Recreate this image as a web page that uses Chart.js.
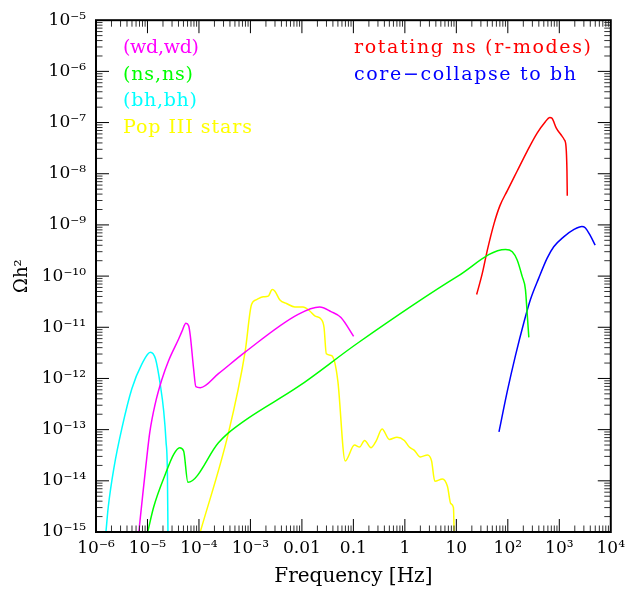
<!DOCTYPE html>
<html>
<head>
<meta charset="utf-8">
<script src="https://cdn.jsdelivr.net/npm/chart.js@4.4.1/dist/chart.umd.min.js"></script>
<style>
  html, body { margin: 0; padding: 0; background: #ffffff; }
  canvas { display: block; }
</style>
</head>
<body>
<canvas id="c" width="631" height="591" style="width:631px;height:591px"></canvas>
<script>
// ---------------- DATA ----------------
// (wd,wd)
const wdwdFreq  = [6.79e-6, 7.94e-6, 9.33e-6, 1.11e-5, 1.41e-5, 1.89e-5, 2.58e-5, 4.03e-5, 4.67e-5, 5.58e-5, 6.30e-5, 6.79e-5, 7.87e-5, 8.71e-5, 1.06e-4, 2.39e-4, 7.87e-4, 8.45e-3, 2.22e-2, 3.67e-2, 5.73e-2, 1.01e-1];
const wdwdOmega = [1e-15, 4.47e-15, 2.0e-14, 8.9e-14, 3.16e-13, 9.3e-13, 2.24e-12, 5.89e-12, 8.3e-12, 1.20e-11, 1.07e-11, 6.84e-12, 1.55e-12, 6.89e-13, 6.59e-13, 1.24e-12, 3.27e-12, 1.79e-11, 2.49e-11, 2.02e-11, 1.55e-11, 6.64e-12];

// (ns,ns)
const nsnsFreq  = [1.01e-5, 1.32e-5, 2.23e-5, 3.23e-5, 4.22e-5, 5.04e-5, 6.10e-5, 2.39e-4, 3.74e-4, 9.1e-4, 8.43e-3, 0.122, 10.5, 90.4, 122, 152, 190, 220, 237, 256];
const nsnsOmega = [1e-15, 3.08e-15, 1.36e-14, 3.30e-14, 4.44e-14, 3.83e-14, 9.35e-15, 5.53e-14, 8.63e-14, 1.68e-13, 6.89e-13, 4.93e-12, 9.86e-11, 3.32e-10, 3.00e-10, 2.07e-10, 9.86e-11, 5.44e-11, 1.93e-11, 6.35e-12];

// (bh,bh)
const bhbhFreq  = [1.56e-6, 1.73e-6, 2.23e-6, 3.18e-6, 4.97e-6, 7.76e-6, 1.14e-5, 1.43e-5, 1.78e-5, 2.07e-5, 2.29e-5, 2.44e-5, 2.50e-5];
const bhbhOmega = [1e-15, 3.08e-15, 1.80e-14, 1.06e-13, 6.3e-13, 1.91e-12, 3.27e-12, 2.42e-12, 7.4e-13, 2.26e-13, 5.97e-14, 1.36e-14, 1e-15];

// Pop III stars
const popFreq  = [1.06e-4, 3.74e-4, 7.87e-4, 1.05e-3, 1.32e-3, 1.78e-3, 2.22e-3, 2.65e-3, 2.99e-3, 3.74e-3, 5.01e-3, 7.29e-3, 1.05e-2, 1.42e-2, 1.78e-2, 2.38e-2, 2.69e-2, 2.98e-2, 3.72e-2, 4.33e-2, 5.01e-2, 6.93e-2, 0.105, 0.132, 0.165, 0.221, 0.276, 0.361, 0.501, 0.703, 0.977, 1.22, 1.53, 2.00, 2.76, 3.30, 3.82, 5.38, 6.73, 7.80, 8.79, 9.06];
const popOmega = [1e-15, 8.63e-14, 3.27e-12, 2.79e-11, 3.48e-11, 3.94e-11, 4.06e-11, 5.45e-11, 5.07e-11, 3.40e-11, 2.92e-11, 2.49e-11, 2.49e-11, 2.08e-11, 1.67e-11, 1.43e-11, 9.91e-12, 3.03e-12, 2.82e-12, 2.09e-12, 8.59e-13, 2.45e-14, 5.0e-14, 4.57e-14, 6.15e-14, 4.44e-14, 5.97e-14, 1.03e-13, 6.44e-14, 7.13e-14, 6.15e-14, 4.57e-14, 3.94e-14, 2.93e-14, 3.21e-14, 2.45e-14, 9.77e-15, 1.09e-14, 7.73e-15, 3.58e-15, 3.0e-15, 1e-15];

// rotating ns (r-modes)
const rmodeFreq  = [24.8, 32.0, 40.0, 53.8, 70.3, 97.3, 152, 237, 371, 536, 652, 723, 875, 1079, 1250, 1349, 1409, 1429];
const rmodeOmega = [4.36e-11, 1.14e-10, 3.22e-10, 1.05e-9, 2.38e-9, 4.63e-9, 1.13e-8, 2.74e-8, 6.21e-8, 1.04e-7, 1.26e-7, 1.21e-7, 7.76e-8, 5.77e-8, 4.61e-8, 3.43e-8, 1.13e-8, 3.72e-9];

// core-collapse to bh
const ccbhFreq  = [67.3, 97.3, 141, 205, 275, 399, 578, 780, 1216, 1901, 2748, 3184, 3981, 4977];
const ccbhOmega = [9.04e-14, 5.51e-13, 2.82e-12, 1.24e-11, 3.48e-11, 9.14e-11, 2.22e-10, 3.74e-10, 5.85e-10, 8.07e-10, 9.35e-10, 8.83e-10, 6.27e-10, 4.02e-10];

// Tick values and labels
const xTickValues = [1e-6, 1e-5, 1e-4, 1e-3, 1e-2, 1e-1, 1, 10, 100, 1000, 10000];
const xTickLabels = ['10\u207B\u2076', '10\u207B\u2075', '10\u207B\u2074', '10\u207B\u00B3', '0.01', '0.1', '1', '10', '10\u00B2', '10\u00B3', '10\u2074'];
const yTickValues = [1e-15, 1e-14, 1e-13, 1e-12, 1e-11, 1e-10, 1e-9, 1e-8, 1e-7, 1e-6, 1e-5];
const yTickLabels = ['10\u207B\u00B9\u2075', '10\u207B\u00B9\u2074', '10\u207B\u00B9\u00B3', '10\u207B\u00B9\u00B2', '10\u207B\u00B9\u00B9', '10\u207B\u00B9\u2070', '10\u207B\u2079', '10\u207B\u2078', '10\u207B\u2077', '10\u207B\u2076', '10\u207B\u2075'];

const seriesNames  = ['(wd,wd)', '(ns,ns)', '(bh,bh)', 'Pop III stars', 'rotating ns (r-modes)', 'core\u2212collapse to bh'];
const seriesColors = ['#ff00ff', '#00ff00', '#00ffff', '#ffff00', '#ff0000', '#0000ff'];
const seriesFreqs  = [wdwdFreq, nsnsFreq, bhbhFreq, popFreq, rmodeFreq, ccbhFreq];
const seriesOmegas = [wdwdOmega, nsnsOmega, bhbhOmega, popOmega, rmodeOmega, ccbhOmega];

// ---------------- LAYOUT / STYLE ----------------
const legendLayout = [
  { x: 123, y: 48,    w: 76 },
  { x: 123, y: 75,    w: 70 },
  { x: 123, y: 101.5, w: 74 },
  { x: 123, y: 128,   w: 129 },
  { x: 354, y: 48,    w: 237 },
  { x: 354, y: 75,    w: 222 }
];

function decadeTicks(values) {
  const out = [];
  for (let i = 0; i < values.length; i++) {
    out.push({ value: values[i], major: true });
    if (i < values.length - 1) {
      for (let m = 2; m <= 9; m++) out.push({ value: values[i] * m, major: false });
    }
  }
  return out;
}
function labelFor(values, labels, v) {
  const i = values.findIndex(t => Math.abs(Math.log10(t) - Math.log10(v)) < 1e-9);
  return i >= 0 ? labels[i] : '';
}

const datasets = seriesNames.map((name, i) => ({
  label: name,
  data: seriesFreqs[i].map((f, j) => ({ x: f, y: seriesOmegas[i][j] })),
  borderColor: seriesColors[i],
  backgroundColor: seriesColors[i],
  borderWidth: 1.5,
  pointRadius: 0,
  fill: false,
  cubicInterpolationMode: 'monotone'
}));

const framePlugin = {
  id: 'frame',
  afterDatasetsDraw(chart) {
    const { ctx, chartArea: { left, right, top, bottom }, scales: { x, y } } = chart;
    ctx.save();
    ctx.lineWidth = 1;
    x.ticks.forEach(t => {
      const px = x.getPixelForValue(t.value);
      if (px <= left + 1 || px >= right - 1) return;
      const len = t.major ? 13 : 6.5;
      ctx.strokeStyle = t.major ? '#000' : '#333';
      ctx.beginPath();
      ctx.moveTo(px, bottom); ctx.lineTo(px, bottom - len);
      ctx.moveTo(px, top); ctx.lineTo(px, top + len);
      ctx.stroke();
    });
    y.ticks.forEach(t => {
      const py = y.getPixelForValue(t.value);
      if (py <= top + 1 || py >= bottom - 1) return;
      const len = t.major ? 13 : 6.5;
      ctx.strokeStyle = t.major ? '#000' : '#333';
      ctx.beginPath();
      ctx.moveTo(left, py); ctx.lineTo(left + len, py);
      ctx.moveTo(right, py); ctx.lineTo(right - len, py);
      ctx.stroke();
    });
    ctx.strokeStyle = '#000';
    ctx.lineWidth = 2;
    ctx.strokeRect(left, top, right - left, bottom - top);

    // legend texts
    ctx.font = '19px "DejaVu Serif"';
    ctx.textBaseline = 'middle';
    ctx.textAlign = 'left';
    seriesNames.forEach((name, i) => {
      const L = legendLayout[i];
      ctx.letterSpacing = '0px';
      const w = ctx.measureText(name).width;
      const n = Math.max(1, name.length - 1);
      ctx.letterSpacing = ((L.w - w) / n).toFixed(2) + 'px';
      ctx.fillStyle = seriesColors[i];
      ctx.fillText(name, L.x, L.y);
    });
    ctx.restore();
  }
};

new Chart(document.getElementById('c'), {
  type: 'line',
  data: { datasets },
  options: {
    responsive: false,
    animation: false,
    devicePixelRatio: 1,
    layout: { padding: { top: 15, right: 17, left: 0, bottom: 0 } },
    plugins: { legend: { display: false }, tooltip: { enabled: false } },
    scales: {
      x: {
        type: 'logarithmic',
        position: 'bottom',
        min: 1e-6,
        max: 1e4,
        afterBuildTicks: (scale) => { scale.ticks = decadeTicks(xTickValues); },
        afterFit: (scale) => { scale.height = 59; },
        grid: { display: false, drawTicks: false },
        border: { display: false },
        ticks: {
          autoSkip: false,
          maxRotation: 0,
          minRotation: 0,
          padding: 6,
          color: '#000',
          font: { family: '"DejaVu Serif"', size: 17 },
          callback: (v) => labelFor(xTickValues, xTickLabels, v)
        },
        title: {
          display: true,
          text: 'Frequency [Hz]',
          color: '#000',
          font: { family: '"DejaVu Serif"', size: 20 },
          padding: { top: 0, bottom: 2 }
        }
      },
      y: {
        type: 'logarithmic',
        position: 'left',
        min: 1e-15,
        max: 1e-5,
        afterBuildTicks: (scale) => { scale.ticks = decadeTicks(yTickValues); },
        afterFit: (scale) => { scale.width = 96; },
        grid: { display: false, drawTicks: false },
        border: { display: false },
        ticks: {
          autoSkip: false,
          padding: 10,
          color: '#000',
          font: { family: '"DejaVu Serif"', size: 17 },
          callback: (v) => labelFor(yTickValues, yTickLabels, v)
        },
        title: {
          display: true,
          text: '\u03A9h\u00B2',
          color: '#000',
          font: { family: '"DejaVu Serif"', size: 18 },
          padding: { top: 12, bottom: 0 }
        }
      }
    }
  },
  plugins: [framePlugin]
});
</script>
</body>
</html>
